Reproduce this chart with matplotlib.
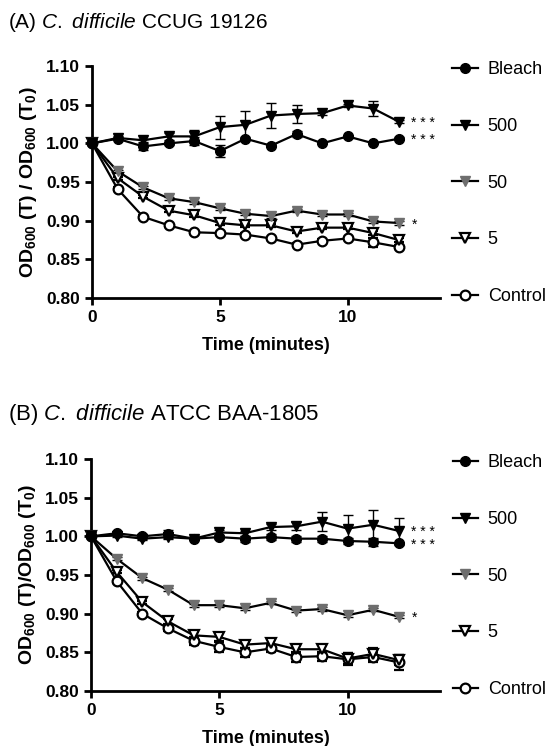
import matplotlib
matplotlib.use('Agg')

import matplotlib.pyplot as plt
import numpy as np
from matplotlib.lines import Line2D

plt.rcParams['font.family'] = ['Liberation Sans', 'DejaVu Sans']
plt.rcParams['mathtext.fontset'] = 'custom'
plt.rcParams['mathtext.rm'] = 'Liberation Sans'
plt.rcParams['mathtext.it'] = 'Liberation Sans:italic'
plt.rcParams['mathtext.bf'] = 'Liberation Sans:bold'

# --- Data ---
time = [0, 1, 2, 3, 4, 5, 6, 7, 8, 9, 10, 11, 12]
series_names = ['Bleach', '500', '50', '5', 'Control']

# Panel A: C. difficile CCUG 19126
a_bleach = [1.000, 1.006, 0.996, 1.000, 1.003, 0.990, 1.006, 0.997, 1.012, 1.000, 1.009, 1.000, 1.006]
a_500 = [1.000, 1.007, 1.004, 1.009, 1.009, 1.021, 1.024, 1.036, 1.038, 1.039, 1.049, 1.045, 1.028]
a_50 = [1.000, 0.964, 0.943, 0.929, 0.924, 0.916, 0.909, 0.906, 0.913, 0.908, 0.908, 0.899, 0.897]
a_5 = [1.000, 0.955, 0.931, 0.913, 0.907, 0.897, 0.894, 0.894, 0.886, 0.891, 0.891, 0.884, 0.875]
a_ctrl = [1.000, 0.941, 0.905, 0.894, 0.885, 0.884, 0.882, 0.877, 0.869, 0.874, 0.877, 0.872, 0.866]
a_bleach_err = [0, 0.002, 0.004, 0.002, 0.005, 0.008, 0.002, 0.002, 0.004, 0.001, 0.002, 0.001, 0.002]
a_500_err = [0, 0.002, 0.002, 0.005, 0.008, 0.015, 0.018, 0.016, 0.012, 0.002, 0.002, 0.010, 0.002]
a_50_err = [0, 0.002, 0.002, 0.002, 0.002, 0.002, 0.002, 0.002, 0.002, 0.002, 0.002, 0.002, 0.002]
a_5_err = [0, 0.002, 0.002, 0.002, 0.002, 0.002, 0.002, 0.002, 0.002, 0.002, 0.002, 0.003, 0.002]
a_ctrl_err = [0, 0.002, 0.002, 0.002, 0.002, 0.002, 0.002, 0.002, 0.002, 0.002, 0.002, 0.006, 0.002]

# Panel B: C. difficile ATCC BAA-1805
b_bleach = [1.000, 1.004, 1.000, 1.003, 0.997, 0.999, 0.997, 0.999, 0.997, 0.997, 0.994, 0.993, 0.991]
b_500 = [1.000, 1.001, 0.997, 0.999, 0.997, 1.005, 1.004, 1.012, 1.013, 1.019, 1.010, 1.015, 1.007]
b_50 = [1.000, 0.971, 0.946, 0.931, 0.911, 0.911, 0.907, 0.914, 0.904, 0.906, 0.898, 0.905, 0.896]
b_5 = [1.000, 0.954, 0.915, 0.890, 0.872, 0.870, 0.860, 0.862, 0.854, 0.854, 0.842, 0.848, 0.840]
b_ctrl = [1.000, 0.942, 0.900, 0.881, 0.865, 0.857, 0.850, 0.855, 0.844, 0.845, 0.841, 0.844, 0.837]
b_bleach_err = [0, 0.002, 0.003, 0.005, 0.002, 0.003, 0.004, 0.004, 0.004, 0.004, 0.004, 0.005, 0.002]
b_500_err = [0, 0.002, 0.002, 0.002, 0.002, 0.003, 0.003, 0.004, 0.005, 0.012, 0.017, 0.019, 0.017]
b_50_err = [0, 0.002, 0.002, 0.002, 0.002, 0.002, 0.002, 0.002, 0.002, 0.002, 0.002, 0.002, 0.002]
b_5_err = [0, 0.002, 0.002, 0.003, 0.004, 0.005, 0.004, 0.005, 0.006, 0.005, 0.007, 0.008, 0.007]
b_ctrl_err = [0, 0.002, 0.002, 0.003, 0.005, 0.006, 0.006, 0.005, 0.006, 0.006, 0.008, 0.007, 0.010]

a_stars = {'500': '* * *', 'Bleach': '* * *', '50': '*'}
b_stars = {'500': '* * *', 'Bleach': '* * *', '50': '*'}

# --- Styles ---
gray = '#6e6e6e'
styles = {
    'Bleach': dict(marker='o', mfc='black', mec='black', ms=7),
    '500': dict(marker='v', mfc='black', mec='black', ms=7.5),
    '50': dict(marker='v', mfc=gray, mec=gray, ms=7.5),
    '5': dict(marker='v', mfc='white', mec='black', ms=7.5),
    'Control': dict(marker='o', mfc='white', mec='black', ms=7),
}


def draw_panel(ax, values, errors, stars, ylabel):
    for name in ['Control', '5', '50', 'Bleach', '500']:
        st = styles[name]
        ax.errorbar(time, values[name], yerr=errors[name], color='black', lw=1.6,
                    marker=st['marker'], ms=st['ms'], mfc=st['mfc'], mec=st['mec'],
                    mew=1.6 if st['mfc'] == 'white' else 1.0,
                    ecolor='black', elinewidth=1.0, capsize=3.5, capthick=1.0,
                    clip_on=False, zorder=3)
    for name, s in stars.items():
        ax.annotate(s, xy=(time[-1], values[name][-1]), xytext=(9, 0),
                    textcoords='offset points', va='center_baseline', ha='left',
                    fontsize=10, annotation_clip=False)

    ax.set_xlim(0, 13.6)
    ax.set_ylim(0.80, 1.10)
    ax.set_xticks([0, 5, 10])
    yt = np.arange(0.80, 1.101, 0.05)
    ax.set_yticks(yt)
    ax.set_yticklabels(['%.2f' % v for v in yt])
    for sp in ['top', 'right']:
        ax.spines[sp].set_visible(False)
    for sp in ['left', 'bottom']:
        ax.spines[sp].set_linewidth(2.0)
    ax.tick_params(width=2.0, length=5, labelsize=12.5, direction='out')
    for lab in ax.get_xticklabels() + ax.get_yticklabels():
        lab.set_fontweight('bold')
    ax.set_xlabel('Time (minutes)', fontsize=13, fontweight='bold', labelpad=9)
    ax.set_ylabel(ylabel, fontsize=14, fontweight='bold', labelpad=5)

    handles = []
    for name in series_names:
        st = styles[name]
        handles.append(Line2D([], [], color='black', lw=1.6, marker=st['marker'], ms=st['ms'],
                              mfc=st['mfc'], mec=st['mec'],
                              mew=1.6 if st['mfc'] == 'white' else 1.0))
    ax.legend(handles, series_names, loc='upper left', bbox_to_anchor=(1.0, 1.075),
              frameon=False, fontsize=13, handlelength=1.4, handletextpad=0.55,
              labelspacing=2.2, borderaxespad=0.3)


fig = plt.figure(figsize=(5.52, 7.46), dpi=100)
ax_a = fig.add_axes([0.1667, 0.6005, 0.630, 0.311])
ax_b = fig.add_axes([0.1649, 0.0737, 0.632, 0.311])

draw_panel(ax_a,
           {'Bleach': a_bleach, '500': a_500, '50': a_50, '5': a_5, 'Control': a_ctrl},
           {'Bleach': a_bleach_err, '500': a_500_err, '50': a_50_err, '5': a_5_err, 'Control': a_ctrl_err},
           a_stars, r'OD$_{\mathbf{600}}$ (T) / OD$_{\mathbf{600}}$ (T$_{\mathbf{0}}$)')
draw_panel(ax_b,
           {'Bleach': b_bleach, '500': b_500, '50': b_50, '5': b_5, 'Control': b_ctrl},
           {'Bleach': b_bleach_err, '500': b_500_err, '50': b_50_err, '5': b_5_err, 'Control': b_ctrl_err},
           b_stars, r'OD$_{\mathbf{600}}$ (T)/OD$_{\mathbf{600}}$ (T$_{\mathbf{0}}$)')

fig.text(0.015, 0.970, r'(A) $\mathit{C.\ difficile}$ CCUG 19126', fontsize=15, va='center', ha='left')
fig.text(0.015, 0.444, r'(B) $\mathit{C.\ difficile}$ ATCC BAA-1805', fontsize=16, va='center', ha='left')

fig.savefig('out.png', dpi=100)
